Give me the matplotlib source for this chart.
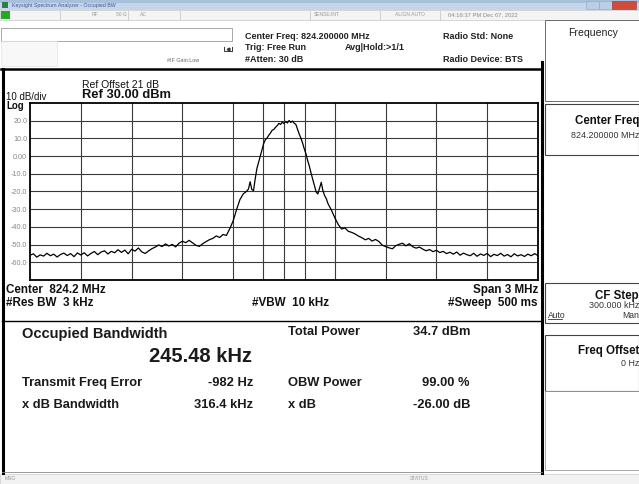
import matplotlib
matplotlib.use("Agg")
import matplotlib.pyplot as plt
from matplotlib.patches import Rectangle

plt.rcParams['font.family'] = ['Liberation Sans', 'DejaVu Sans']

# ---------------- data ----------------
center_mhz = 824.2
span_khz = 3000
ref_level = 30.0
db_per_div = 10
obw_khz = 245.48
freq_err_khz = -0.982

freq_khz = [-1500, -1480, -1460, -1440, -1420, -1400, -1380, -1360, -1340, -1320,
            -1300, -1280, -1260, -1240, -1220, -1200, -1180, -1160, -1140, -1120,
            -1100, -1080, -1060, -1040, -1020, -1000, -980, -960, -940, -920,
            -900, -880, -860, -840, -820, -800, -780, -760, -740, -720,
            -700, -680, -660, -640, -620, -600, -580, -560, -540, -520,
            -500, -480, -460, -440, -420, -400, -380, -360, -340, -320,
            -300, -280, -260, -240, -220, -210, -200, -190, -180, -170,
            -160, -150, -140, -130, -120, -110, -100, -90, -80, -70,
            -60, -50, -40, -30, -20, -10, 0, 10, 20, 30,
            40, 50, 60, 70, 80, 90, 100, 110, 120, 130,
            140, 150, 160, 170, 180, 190, 200, 210, 220, 230,
            240, 250, 260, 280, 300, 320, 340, 360, 380, 400,
            420, 440, 460, 480, 500, 520, 540, 560, 580, 600,
            620, 640, 660, 680, 700, 720, 740, 760, 780, 800,
            820, 840, 860, 880, 900, 920, 940, 960, 980, 1000,
            1020, 1040, 1060, 1080, 1100, 1120, 1140, 1160, 1180, 1200,
            1220, 1240, 1260, 1280, 1300, 1320, 1340, 1360, 1380, 1400,
            1420, 1440, 1460, 1480, 1500]
level_dbm = [-56.0, -55.2, -57.1, -55.8, -56.5, -54.9, -56.3, -55.4, -57.0, -55.6,
             -54.8, -56.2, -55.1, -56.8, -54.7, -55.9, -54.6, -56.4, -55.0, -53.9,
             -55.7, -54.2, -53.5, -55.3, -53.8, -54.6, -52.9, -54.4, -53.1, -55.2,
             -52.6, -53.7, -51.9, -54.1, -55.0, -53.6, -52.3, -51.4, -50.2, -51.1,
             -49.6, -50.8, -49.9, -51.3, -49.2, -48.1, -48.9, -47.6, -49.0, -50.4,
             -51.0, -49.5, -48.3, -47.2, -46.5, -45.1, -46.0, -44.3, -44.8, -41.0,
             -36.5, -30.2, -24.5, -21.3, -19.8, -18.6, -14.5, -18.9, -19.5, -12.8,
             -7.0, -3.5, 0.2, 3.4, 7.1, 9.3, 10.2, 11.8, 13.0, 14.6,
             15.1, 16.3, 17.2, 18.5, 17.9, 19.2, 18.4, 19.6, 18.7, 20.1,
             19.0, 19.8, 18.6, 17.9, 15.2, 12.4, 10.1, 7.3, 4.0, 1.2,
             -2.6, -5.8, -9.7, -13.2, -16.5, -20.3, -21.4, -18.2, -14.8, -19.6,
             -22.3, -24.1, -26.9, -30.5, -34.8, -38.6, -41.2, -40.6, -42.5, -43.1,
             -44.0, -45.2, -46.1, -47.3, -46.5, -48.0, -47.1, -48.2, -50.3, -51.1,
             -51.8, -52.4, -50.6, -49.8, -49.2, -50.7, -49.5, -51.2, -52.0, -51.4,
             -52.6, -53.5, -52.8, -54.0, -53.2, -54.5, -53.8, -55.1, -54.3, -55.4,
             -54.2, -56.0, -54.8, -55.7, -56.3, -54.9, -56.6, -55.3, -56.1, -55.0,
             -56.8, -55.5, -56.2, -54.9, -56.5, -55.6, -56.9, -55.2, -56.4, -55.7,
             -56.7, -55.4, -56.3, -55.1, -56.2]
ytick_vals = [-60, -50, -40, -30, -20, -10, 0, 10, 20]
ytick_labels = ['-60.0', '-50.0', '-40.0', '-30.0', '-20.0', '-10.0', '0.00', '10.0', '20.0']

# ---------------- figure ----------------
W, H = 639, 484
fig = plt.figure(figsize=(W / 100, H / 100), dpi=100)
fig.patch.set_facecolor('white')

bg = fig.add_axes([0, 0, 1, 1])
bg.set_xlim(0, W)
bg.set_ylim(H, 0)
bg.axis('off')

def rect(x0, y0, x1, y1, fc='none', ec='none', lw=0.8, z=1):
    bg.add_patch(Rectangle((x0, y0), x1 - x0, y1 - y0, facecolor=fc, edgecolor=ec, lw=lw, zorder=z))

def txt(x, y, s, size=6, weight='normal', ha='left', color='#111111', **kw):
    bg.text(x, y, s, fontsize=size, fontweight=weight, ha=ha, va='center', color=color, zorder=5, **kw)

# title bar
rect(0, 0, W, 10, fc='#c6d6ea')
rect(0, 0, W, 2.5, fc='#a9c0dd')
rect(2, 1.5, 8, 7.5, fc='#2f7d4a')
txt(12, 5, 'Keysight Spectrum Analyzer - Occupied BW', size=3.8, color='#3a5a9a')
rect(586, 1, 599, 8.5, fc='#b9cfe8', ec='#8aa6c8', lw=0.4)
rect(599, 1, 612, 8.5, fc='#b9cfe8', ec='#8aa6c8', lw=0.4)
rect(612, 1, 636, 8.5, fc='#cf4b3c', ec='#a03028', lw=0.4)

# status row
rect(0, 10, W, 20, fc='#f4f4f4', ec='#c8c8c8', lw=0.5)
rect(1, 10.5, 10, 19, fc='#22aa22')
for xs in [60, 128, 180, 310, 380, 440]:
    bg.plot([xs, xs], [10.5, 19.5], color='#c0c0c0', lw=0.5, zorder=2)
txt(92, 15, 'RF', size=3.6, color='#999999')
txt(116, 15, '50 Ω', size=3.6, color='#999999')
txt(140, 15, 'AC', size=3.6, color='#999999')
txt(314, 15, 'SENSE:INT', size=3.6, color='#999999')
txt(395, 15, 'ALIGN AUTO', size=3.6, color='#999999')
txt(448, 15, '04:16:37 PM Dec 07, 2022', size=4.2, color='#888888')

# info area
rect(1, 28, 232, 41, fc='white', ec='#9a9a9a', lw=0.6)
rect(1, 41, 57, 66, fc='#f8f8f8', ec='#dddddd', lw=0.4)
txt(167, 61, '#IF Gain:Low', size=3.9, color='#666666')
bg.plot([224, 224, 232, 232], [47, 51, 51, 47], color='#333333', lw=0.7, zorder=3)
bg.plot([228], [49], marker='<', ms=2, color='#333333', zorder=3)
info_fs = 6.5
txt(245, 36.5, 'Center Freq: 824.200000 MHz', size=info_fs, weight='bold', color='#222222')
txt(245, 47.5, 'Trig: Free Run', size=info_fs, weight='bold', color='#222222')
txt(345, 47.5, 'Avg|Hold:>1/1', size=info_fs, weight='bold', color='#222222')
txt(245, 59, '#Atten: 30 dB', size=info_fs, weight='bold', color='#222222')
txt(443, 36.5, 'Radio Std: None', size=info_fs, weight='bold', color='#222222')
txt(443, 59.5, 'Radio Device: BTS', size=info_fs, weight='bold', color='#222222')

# right softkey panel
rect(545, 20, W, 101, fc='white', ec='#555555', lw=0.6)
txt(593, 33, 'Frequency', size=7.6, ha='center', color='#222222')
rect(545, 104, W, 155, fc='white', ec='#444444', lw=0.8)
txt(639, 121, 'Center Freq', size=8.3, weight='bold', ha='right')
txt(639, 135, '824.200000 MHz', size=6.4, ha='right', color='#333333')
rect(545, 283, W, 323, fc='white', ec='#444444', lw=0.8)
txt(639, 295.5, 'CF Step', size=8.3, weight='bold', ha='right')
txt(639, 305.5, '300.000 kHz', size=6.4, ha='right', color='#333333')
txt(548, 315, 'Auto', size=6.2, color='#333333')
bg.plot([548, 562], [319, 319], color='#333333', lw=0.6, zorder=5)
txt(639, 315, 'Man', size=6.2, ha='right', color='#333333')
rect(545, 335, W, 391, fc='white', ec='#444444', lw=0.8)
txt(639, 351, 'Freq Offset', size=8.3, weight='bold', ha='right')
txt(639, 363, '0 Hz', size=6.4, ha='right', color='#333333')
rect(545, 391, W, 470, fc='white', ec='#888888', lw=0.5)

# main panel frame
bg.plot([1, 542], [69, 69], color='black', lw=1.8, zorder=4)
bg.plot([2.5, 2.5], [69, 473], color='black', lw=2.2, zorder=4)
bg.plot([542, 542], [62, 473], color='black', lw=2.2, zorder=4)
bg.plot([2, 542], [321, 321], color='black', lw=1.0, zorder=4)
bg.plot([2, 542], [472, 472], color='#888888', lw=0.6, zorder=4)

txt(82, 84.5, 'Ref Offset 21 dB', size=7.5, color='#111111')
txt(82, 95.5, 'Ref 30.00 dBm', size=9.3, weight='bold', color='#111111')
txt(6, 97, '10 dB/div', size=7.0, color='#111111')
txt(6, 106, 'Log', size=7.0, weight='bold', color='#111111')

bot_fs = 8.4
txt(6, 290, 'Center  824.2 MHz', size=bot_fs, weight='bold')
txt(6, 303, '#Res BW  3 kHz', size=bot_fs, weight='bold')
txt(290, 303, '#VBW  10 kHz', size=bot_fs, weight='bold', ha='center')
txt(538, 290, 'Span 3 MHz', size=bot_fs, weight='bold', ha='right')
txt(538, 303, '#Sweep  500 ms', size=bot_fs, weight='bold', ha='right')

# results
res_fs = 9.3
txt(22, 334, 'Occupied Bandwidth', size=10.5, weight='bold', color='#1a1a1a')
txt(252, 356, '245.48 kHz', size=14.5, weight='bold', ha='right', color='#1a1a1a')
txt(288, 332, 'Total Power', size=res_fs, weight='bold', color='#1a1a1a')
txt(470, 332, '34.7 dBm', size=res_fs, weight='bold', ha='right', color='#1a1a1a')
txt(22, 383, 'Transmit Freq Error', size=res_fs, weight='bold', color='#1a1a1a')
txt(253, 383, '-982 Hz', size=res_fs, weight='bold', ha='right', color='#1a1a1a')
txt(288, 383, 'OBW Power', size=res_fs, weight='bold', color='#1a1a1a')
txt(470, 383, '99.00 %', size=res_fs, weight='bold', ha='right', color='#1a1a1a')
txt(22, 405, 'x dB Bandwidth', size=res_fs, weight='bold', color='#1a1a1a')
txt(253, 405, '316.4 kHz', size=res_fs, weight='bold', ha='right', color='#1a1a1a')
txt(288, 405, 'x dB', size=res_fs, weight='bold', color='#1a1a1a')
txt(470, 405, '-26.00 dB', size=res_fs, weight='bold', ha='right', color='#1a1a1a')

# bottom status bar
rect(0, 474, W, H, fc='#f2f2f2', ec='#cccccc', lw=0.5)
txt(5, 479, 'MSG', size=3.6, color='#999999')
txt(410, 479, 'STATUS', size=3.6, color='#999999')

# ---------------- trace axes ----------------
x0, x1, y0, y1 = 30, 538, 103, 280
ax = fig.add_axes([x0 / W, 1 - y1 / H, (x1 - x0) / W, (y1 - y0) / H])
ax.set_xlim(-span_khz / 2, span_khz / 2)
ax.set_ylim(ref_level - 10 * db_per_div, ref_level)
grid_c = '#3a3a3a'
for gx in range(-1200, 1500, 300):
    ax.axvline(gx, color=grid_c, lw=0.8, zorder=1)
for gy in range(-60, 30, 10):
    ax.axhline(gy, color=grid_c, lw=0.8, zorder=1)
obw_c = freq_err_khz
ax.axvline(obw_c - obw_khz / 2, color=grid_c, lw=0.8, zorder=1)
ax.axvline(obw_c + obw_khz / 2, color=grid_c, lw=0.8, zorder=1)
ax.plot(freq_khz, level_dbm, color='black', lw=0.9, zorder=3)
ax.set_xticks([])
ax.set_yticks(ytick_vals)
ax.set_yticklabels(ytick_labels, fontsize=5.2, color='#888888')
ax.tick_params(axis='y', length=0, pad=2)
for s in ax.spines.values():
    s.set_color('black')
    s.set_linewidth(1.3)

fig.savefig('out.png', dpi=100, facecolor='white')
